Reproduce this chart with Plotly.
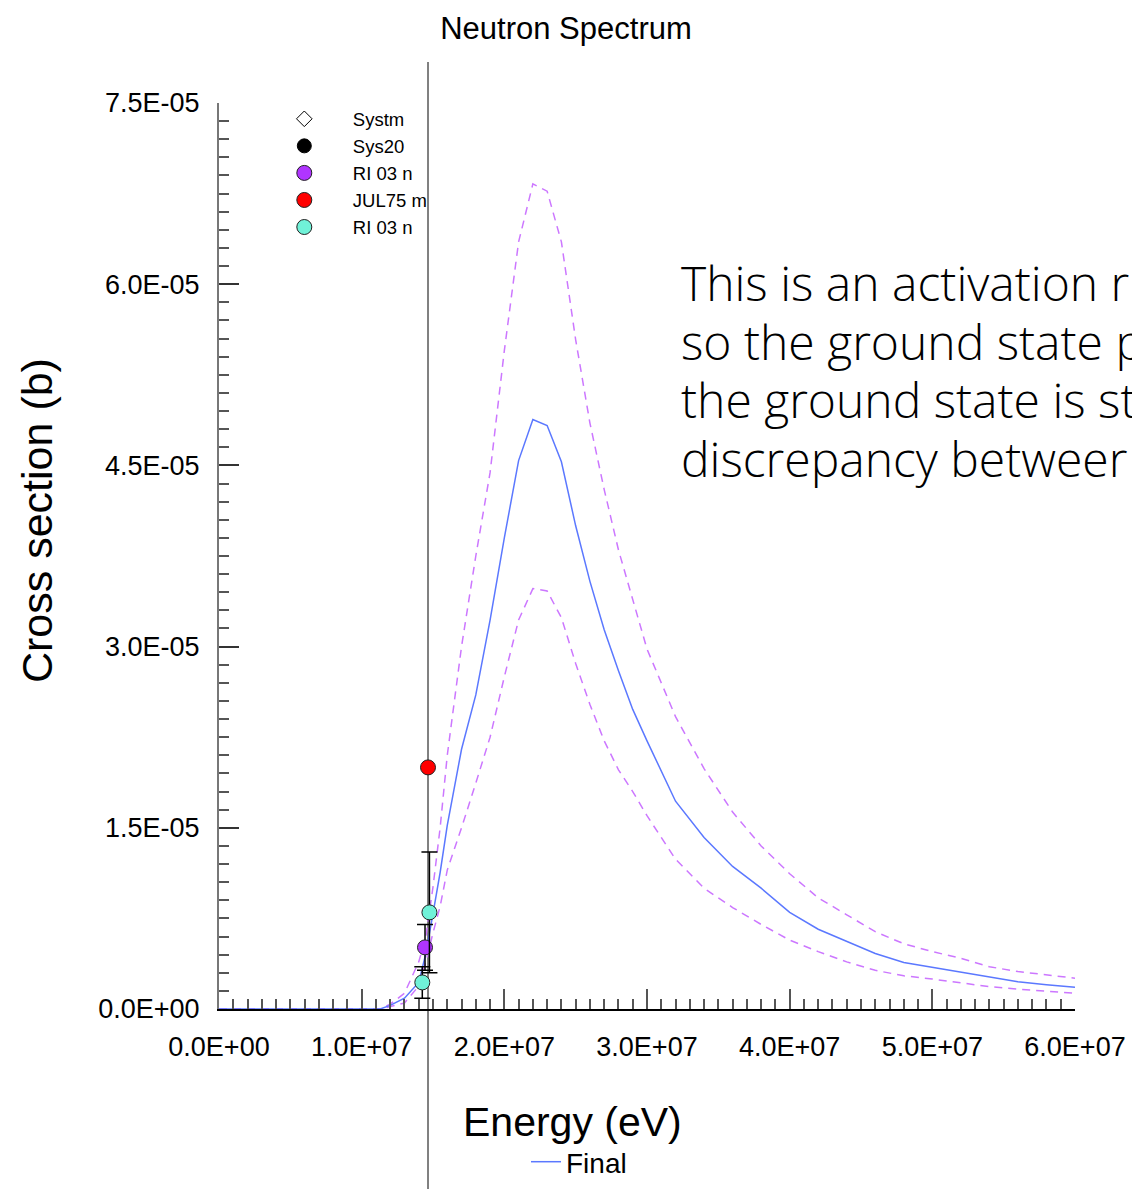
import plotly.graph_objects as go

# ---------------- data ----------------
energy = [0, 1.13e7, 1.2e7, 1.3e7, 1.4e7, 1.45e7, 1.5e7, 1.55e7, 1.6e7, 1.7e7, 1.8e7,
          1.9e7, 2.0e7, 2.1e7, 2.2e7, 2.3e7, 2.4e7, 2.5e7, 2.6e7, 2.7e7, 2.8e7, 2.9e7,
          3.0e7, 3.2e7, 3.4e7, 3.6e7, 3.8e7, 4.0e7, 4.2e7, 4.4e7, 4.6e7, 4.8e7, 5.0e7,
          5.2e7, 5.4e7, 5.6e7, 5.8e7, 6.0e7]
final = [0, 0, 3e-7, 9e-7, 2.2e-6, 4.6e-6, 7.9e-6, 1.13e-5, 1.52e-5, 2.15e-5, 2.6e-5,
         3.22e-5, 3.9e-5, 4.54e-5, 4.88e-5, 4.83e-5, 4.53e-5, 4.0e-5, 3.54e-5, 3.14e-5, 2.8e-5, 2.48e-5,
         2.22e-5, 1.72e-5, 1.42e-5, 1.18e-5, 1.0e-5, 8.0e-6, 6.6e-6, 5.6e-6, 4.6e-6, 3.85e-6, 3.45e-6,
         3.05e-6, 2.6e-6, 2.25e-6, 2.0e-6, 1.8e-6]
upper = [0, 0, 4e-7, 1.3e-6, 3.9e-6, 6.0e-6, 1.01e-5, 1.5e-5, 2.1e-5, 3.0e-5, 3.75e-5,
         4.44e-5, 5.45e-5, 6.35e-5, 6.83e-5, 6.77e-5, 6.35e-5, 5.54e-5, 4.85e-5, 4.3e-5, 3.8e-5, 3.38e-5,
         2.98e-5, 2.42e-5, 1.99e-5, 1.63e-5, 1.35e-5, 1.12e-5, 9.2e-6, 7.8e-6, 6.4e-6, 5.4e-6, 4.75e-6,
         4.2e-6, 3.5e-6, 3.1e-6, 2.8e-6, 2.55e-6]
lower = [0, 0, 2e-7, 5e-7, 1.9e-6, 3.9e-6, 6.3e-6, 8.5e-6, 1.15e-5, 1.5e-5, 1.87e-5,
         2.25e-5, 2.75e-5, 3.22e-5, 3.48e-5, 3.46e-5, 3.24e-5, 2.86e-5, 2.52e-5, 2.22e-5, 1.98e-5, 1.8e-5,
         1.6e-5, 1.24e-5, 1.0e-5, 8.4e-6, 7.0e-6, 5.7e-6, 4.75e-6, 3.9e-6, 3.2e-6, 2.75e-6, 2.48e-6,
         2.18e-6, 1.85e-6, 1.65e-6, 1.45e-6, 1.3e-6]

ri03n_a_e = [1.444e7]
ri03n_a_xs = [5.1e-6]
ri03n_a_err = [1.9e-6]

jul75_e = [1.465e7]
jul75_xs = [2.0e-5]

ri03n_b_e = [1.425e7, 1.475e7]
ri03n_b_xs = [2.2e-6, 8.0e-6]
ri03n_b_err = [1.3e-6, 5.0e-6]

neutron_energy = 1.465e7

x_tickvals = [0, 1e7, 2e7, 3e7, 4e7, 5e7, 6e7]
x_ticktext = ["0.0E+00", "1.0E+07", "2.0E+07", "3.0E+07", "4.0E+07", "5.0E+07", "6.0E+07"]
y_tickvals = [0, 1.5e-5, 3.0e-5, 4.5e-5, 6.0e-5, 7.5e-5]
y_ticktext = ["0.0E+00", "1.5E-05", "3.0E-05", "4.5E-05", "6.0E-05", "7.5E-05"]

note_lines = ["This is an activation r",
              "so the ground state p",
              "the ground state is st",
              "discrepancy betweer"]

# ---------------- figure ----------------
FONT = "Liberation Sans, Arial, Helvetica, sans-serif"
BLUE = "#5b78ff"
VIOLET = "#cc77ff"

fig = go.Figure()

fig.add_trace(go.Scatter(x=energy, y=upper, mode="lines", showlegend=False,
                         line=dict(color=VIOLET, width=1.5, dash="8px,6px"), hoverinfo="skip"))
fig.add_trace(go.Scatter(x=energy, y=lower, mode="lines", showlegend=False,
                         line=dict(color=VIOLET, width=1.5, dash="8px,6px"), hoverinfo="skip"))
fig.add_trace(go.Scatter(x=energy, y=final, mode="lines", name="Final", legend="legend2",
                         line=dict(color=BLUE, width=1.5)))

fig.add_trace(go.Scatter(x=[None], y=[None], mode="markers", name="Systm",
                         marker=dict(symbol="diamond-open", size=12, color="black",
                                     line=dict(width=1, color="black"))))
fig.add_trace(go.Scatter(x=[None], y=[None], mode="markers", name="Sys20",
                         marker=dict(symbol="circle", size=14, color="black",
                                     line=dict(width=1, color="black"))))
fig.add_trace(go.Scatter(x=ri03n_a_e, y=ri03n_a_xs, mode="markers", name="RI 03 n",
                         error_y=dict(type="data", array=ri03n_a_err, color="black",
                                      thickness=1.5, width=8),
                         marker=dict(symbol="circle", size=15, color="#b035ff",
                                     line=dict(width=1, color="#222222"))))
fig.add_trace(go.Scatter(x=jul75_e, y=jul75_xs, mode="markers", name="JUL75 m",
                         marker=dict(symbol="circle", size=15, color="#ff0000",
                                     line=dict(width=1, color="#222222"))))
fig.add_trace(go.Scatter(x=ri03n_b_e, y=ri03n_b_xs, mode="markers", name="RI 03 n ",
                         error_y=dict(type="data", array=ri03n_b_err, color="black",
                                      thickness=1.5, width=8),
                         marker=dict(symbol="circle", size=15, color="#70f2d8",
                                     line=dict(width=1, color="#222222"))))

# vertical line at incident neutron energy
fig.add_shape(type="line", xref="x", yref="paper", x0=neutron_energy, x1=neutron_energy,
              y0=-0.2, y1=1.0453, line=dict(color="#808080", width=2), layer="below")

fig.update_layout(
    width=1132, height=1189,
    margin=dict(l=219, r=57, t=103, b=180, autoexpand=False),
    paper_bgcolor="white", plot_bgcolor="white",
    font=dict(family=FONT, color="black"),
    title=dict(text="Neutron Spectrum", x=0.5, xanchor="center", y=1 - 28 / 1189,
               yanchor="middle", font=dict(size=31, family=FONT)),
    legend=dict(x=0.043, y=1.003, xanchor="left", yanchor="top", bgcolor="rgba(0,0,0,0)",
                font=dict(size=18.5, family=FONT), itemwidth=87, tracegroupgap=0),
    legend2=dict(xref="container", yref="container", x=526 / 1132, y=1 - 1137 / 1189,
                 xanchor="left", yanchor="top", bgcolor="rgba(0,0,0,0)",
                 font=dict(size=28, family=FONT), itemwidth=30),
    xaxis=dict(range=[0, 6e7], showgrid=False, zeroline=False, showline=True,
               linecolor="black", linewidth=1.5, ticks="inside", ticklen=20, tickwidth=1.5,
               tickcolor="#555555", tickvals=x_tickvals, ticktext=x_ticktext,
               tickfont=dict(size=27, family=FONT), ticklabelstandoff=13,
               minor=dict(ticks="inside", ticklen=10, tickwidth=1.5, tickcolor="#555555",
                          dtick=1e6, tick0=0, showgrid=False)),
    yaxis=dict(range=[0, 7.5e-5], showgrid=False, zeroline=False, showline=True,
               linecolor="#777777", linewidth=2, ticks="inside", ticklen=20, tickwidth=1.5,
               tickcolor="#333333", tickvals=y_tickvals, ticktext=y_ticktext,
               tickfont=dict(size=27, family=FONT), ticklabelstandoff=12,
               minor=dict(ticks="inside", ticklen=10, tickwidth=1.5, tickcolor="#555555",
                          dtick=1.5e-6, tick0=0, showgrid=False)),
    showlegend=True,
)

fig.add_annotation(text="Energy (eV)", xref="paper", yref="paper", x=0.4124, y=-0.1247,
                   xanchor="center", yanchor="middle", showarrow=False,
                   font=dict(size=41, family=FONT))
fig.add_annotation(text="Cross section (b)", xref="paper", yref="paper", x=-0.2126, y=0.5386,
                   xanchor="center", yanchor="middle", showarrow=False, textangle=-90,
                   font=dict(size=43, family=FONT))

line_centers_px = [282, 341, 399, 458]
for txt, yc in zip(note_lines, line_centers_px):
    fig.add_annotation(text=txt, xref="paper", yref="paper",
                       x=(679 - 219) / 856, y=(1009 - yc) / 906, xanchor="left", yanchor="middle",
                       align="left", showarrow=False,
                       font=dict(size=48, family="Open Sans, Roboto, sans-serif", weight=300))

fig.write_html("out.html", config={"displayModeBar": False},
               post_script="document.body.style.margin='0px';")
